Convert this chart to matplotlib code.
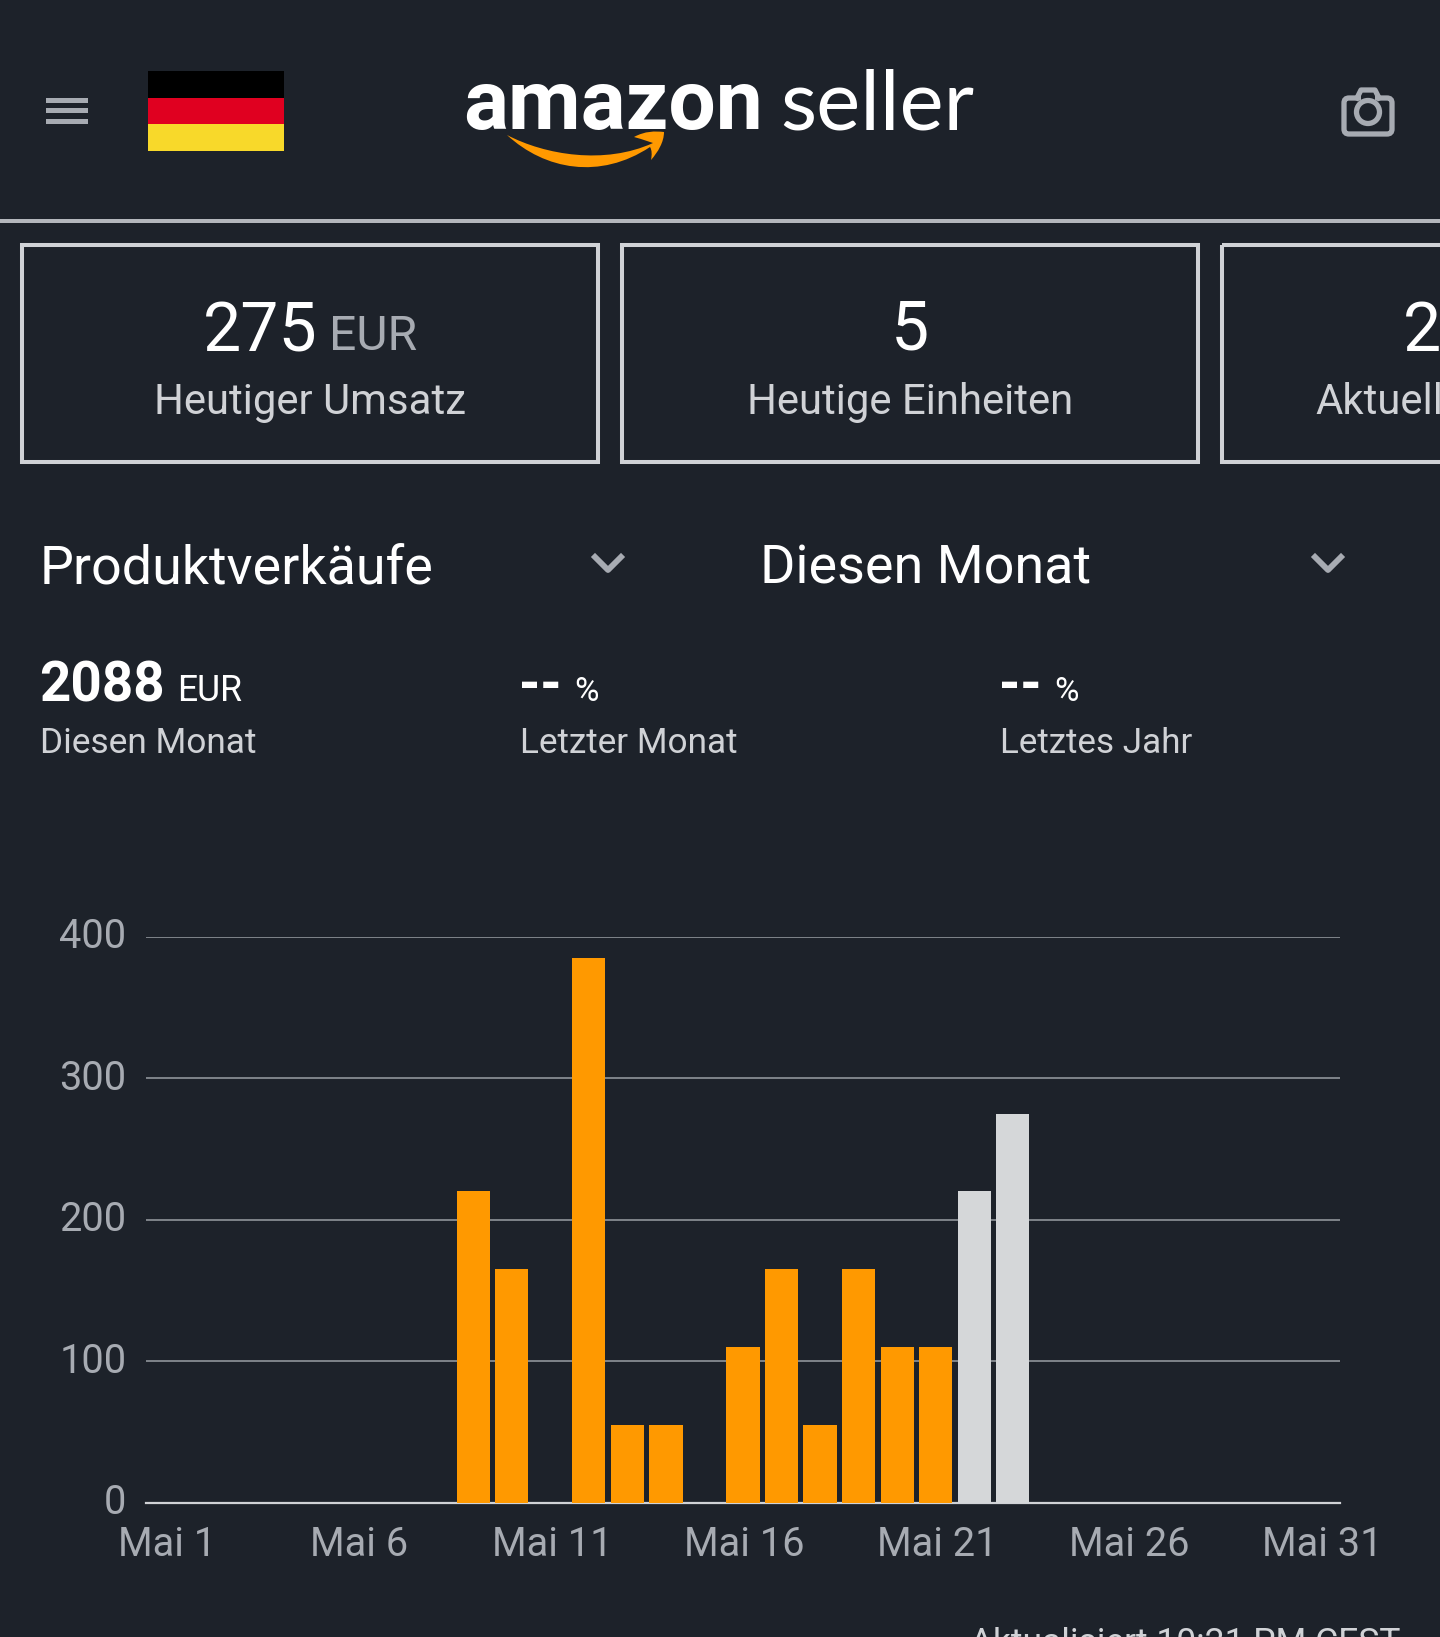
import matplotlib
matplotlib.use("Agg")
import matplotlib.pyplot as plt
from matplotlib.patches import Rectangle, FancyBboxPatch, Circle, PathPatch
from matplotlib.path import Path
from matplotlib.transforms import ScaledTranslation

plt.rcParams['font.family'] = ['Roboto', 'DejaVu Sans']

# data
days = [9, 10, 12, 13, 14, 16, 17, 18, 19, 20, 21, 22, 23]
sales = [220, 165, 385, 55, 55, 110, 165, 55, 165, 110, 110, 220, 275]
bar_colors = ['#ff9900'] * 11 + ['#d5d7d9'] * 2
y_ticks = [0, 100, 200, 300, 400]
x_ticks = [1, 6, 11, 16, 21, 26, 31]
x_labels = ['Mai 1', 'Mai 6', 'Mai 11', 'Mai 16', 'Mai 21', 'Mai 26', 'Mai 31']

BG = '#1d222a'
W, H = 1440, 1637
WHITE = '#ffffff'
LIGHT = '#d0d2d6'
GREY = '#a7abb2'

fig = plt.figure(figsize=(W / 100, H / 100), dpi=100, facecolor=BG)

# overlay in pixel coordinates for the app ui
ui = fig.add_axes([0, 0, 1, 1], zorder=1)
ui.set_xlim(0, W)
ui.set_ylim(H, 0)
ui.axis('off')


def txt(x, y, s, size, color=WHITE, weight='normal', ha='left', **kw):
    return ui.text(x, y, s, fontsize=size, color=color, fontweight=weight,
                   ha=ha, va='baseline', **kw)


# hamburger
for y in (100, 110.5, 121):
    ui.add_patch(Rectangle((46, y - 2.5), 42, 5, color=GREY, lw=0))

# flag
ui.add_patch(Rectangle((148, 71), 136, 27, color='#000000', lw=0))
ui.add_patch(Rectangle((148, 98), 136, 26, color='#e00020', lw=0))
ui.add_patch(Rectangle((148, 124), 136, 27, color='#f8d92a', lw=0))

# logo
txt(463, 129, 'amazon', 60.5, weight='bold')
txt(780, 129, 'seller', 60, family='Lato')
smile = Path(
    [(507, 135), (545, 155), (605, 165), (653, 143),
     (648, 141), (634, 137), (634, 137),
     (645, 131), (655, 131), (664, 132),
     (664, 142), (658, 152), (651, 160),
     (652, 155), (652, 150), (650, 147),
     (600, 180), (545, 170), (507, 135)],
    [Path.MOVETO, Path.CURVE4, Path.CURVE4, Path.CURVE4,
     Path.CURVE4, Path.CURVE4, Path.CURVE4,
     Path.CURVE4, Path.CURVE4, Path.CURVE4,
     Path.CURVE4, Path.CURVE4, Path.CURVE4,
     Path.CURVE4, Path.CURVE4, Path.CURVE4,
     Path.CURVE4, Path.CURVE4, Path.CURVE4])
ui.add_patch(PathPatch(smile, facecolor='#ff9900', edgecolor='none'))

# camera
ui.add_patch(FancyBboxPatch((1344, 98), 48, 36, boxstyle='round,pad=0,rounding_size=5',
                            fc='none', ec=GREY, lw=3.8))
ui.add_patch(Rectangle((1361, 94), 14, 8, fc=BG, lw=0))
ui.plot([1357, 1361, 1375, 1379], [98, 90, 90, 98], color=GREY, lw=3.8)
ui.add_patch(Circle((1368, 112), 11.5, fc='none', ec=GREY, lw=3.8))

# divider and cards
ui.add_patch(Rectangle((0, 219), W, 4, color='#b4b7bc', lw=0))
for left, right in ((22, 598), (622, 1198), (1222, 1500)):
    ui.add_patch(Rectangle((left, 245), right - left, 217, fc='none', ec=LIGHT, lw=2.9))

txt(203, 352, '275', 49)
txt(329, 350, 'EUR', 34.6, color=GREY)
txt(310, 414, 'Heutiger Umsatz', 30.2, color=LIGHT, ha='center')
txt(910, 350, '5', 49, ha='center')
txt(910, 414, 'Heutige Einheiten', 30.2, color=LIGHT, ha='center')
txt(1403, 351, '2', 49)
txt(1315, 414, 'Aktuell', 30.2, color=LIGHT)

# dropdowns
txt(40, 583, 'Produktverkäufe', 38.7)
txt(760, 584, 'Diesen Monat', 38.8)
for cx in (608, 1328):
    ui.plot([cx - 13, cx, cx + 13], [557, 570, 557], color=GREY, lw=4.2)

# summary row
txt(39, 702, '2088', 39.4, weight='bold')
txt(177, 701, 'EUR', 25.6)
txt(519, 702, '--', 39.5, weight='bold')
txt(574, 701, '%', 24)
txt(999, 702, '--', 39.5, weight='bold')
txt(1054, 701, '%', 24)
txt(40, 753, 'Diesen Monat', 25.4, color=LIGHT)
txt(520, 753, 'Letzter Monat', 25.3, color=LIGHT)
txt(1000, 753, 'Letztes Jahr', 25.2, color=LIGHT)

txt(1401, 1653, 'Aktualisiert 10:21 PM CEST', 25.5, color=LIGHT, ha='right')

# bar chart
left, right, top, bottom = 146, 1340, 936.7, 1502.7
ax = fig.add_axes([left / W, 1 - bottom / H, (right - left) / W, (bottom - top) / H], zorder=2)
ax.patch.set_alpha(0)
ax.bar(days, sales, width=0.86, color=bar_colors, zorder=3)
ax.set_xlim(0.5, 31.5)
ax.set_ylim(0, 400)
ax.set_yticks(y_ticks)
ax.set_xticks(x_ticks)
ax.set_xticklabels(x_labels)
ax.tick_params(axis='both', length=0, labelsize=28.6, labelcolor=GREY)
ax.tick_params(axis='x', pad=16)
ax.tick_params(axis='y', pad=14)
# labels sit a little above their gridlines
for label in ax.get_yticklabels():
    label.set_transform(label.get_transform() + ScaledTranslation(0, 3 / 72, fig.dpi_scale_trans))
for label in ax.get_xticklabels():
    label.set_transform(label.get_transform() + ScaledTranslation(1 / 72, 0, fig.dpi_scale_trans))
ax.grid(axis='y', color='#9a9ea4', lw=1.1, zorder=0)
ax.set_axisbelow(True)
for name, spine in ax.spines.items():
    spine.set_visible(name == 'bottom')
ax.spines['bottom'].set_color(LIGHT)
ax.spines['bottom'].set_linewidth(1.6)

fig.savefig('out.png', dpi=100, facecolor=BG)
